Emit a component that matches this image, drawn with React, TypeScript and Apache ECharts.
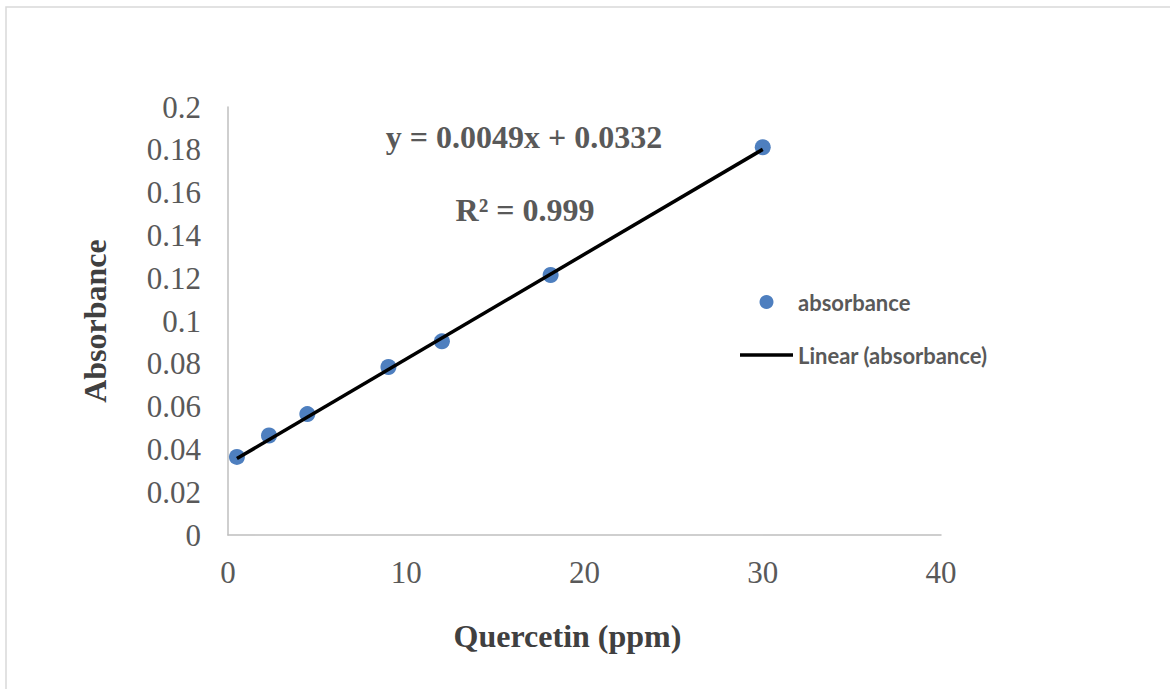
import React, { useEffect, useRef } from "react";
import * as echarts from "echarts";

const concentrations = [0.5, 2.3, 4.45, 9.0, 12.0, 18.1, 30.0];
const absorbances = [0.0365, 0.0465, 0.0565, 0.0785, 0.0905, 0.1215, 0.1812];
const trendX = [0.5, 30];
const trendY = [0.0357, 0.1802];
const equationText = "y = 0.0049x + 0.0332";
const r2Text = "R² = 0.999";

export default function App() {
  const ref = useRef<HTMLDivElement>(null);
  useEffect(() => {
    document.body.style.margin = "0";
    const chart = echarts.init(ref.current!, null, { renderer: "svg" });
    const serif = "'Liberation Serif', 'Times New Roman', serif";
    chart.setOption({
      animation: false,
      backgroundColor: "#ffffff",
      grid: { left: 228, right: 229, top: 107, bottom: 154 },
      xAxis: {
        type: "value",
        min: 0,
        max: 40,
        interval: 10,
        name: "Quercetin (ppm)",
        nameLocation: "middle",
        nameGap: 85,
        nameTextStyle: {
          fontFamily: serif,
          fontSize: 32,
          fontWeight: "bold",
          color: "#404040",
          padding: [0, 34, 0, 0],
        },
        axisLine: { show: true, lineStyle: { color: "#bfbfbf", width: 1.5 } },
        axisTick: { show: false },
        splitLine: { show: false },
        axisLabel: { fontFamily: serif, fontSize: 31, color: "#595959", margin: 22 },
      },
      yAxis: {
        type: "value",
        min: 0,
        max: 0.2,
        interval: 0.02,
        name: "Absorbance",
        nameLocation: "middle",
        nameGap: 117,
        nameTextStyle: { fontFamily: serif, fontSize: 32, fontWeight: "bold", color: "#404040" },
        axisLine: { show: true, lineStyle: { color: "#bfbfbf", width: 1.5 } },
        axisTick: { show: false },
        splitLine: { show: false },
        axisLabel: {
          fontFamily: serif,
          fontSize: 31,
          color: "#595959",
          margin: 27,
          formatter: (v: number) => String(Math.round(v * 100) / 100),
        },
      },
      legend: {
        orient: "vertical",
        left: 740,
        top: 291,
        padding: 0,
        itemWidth: 53,
        itemHeight: 14,
        itemGap: 31,
        symbolKeepAspect: true,
        textStyle: {
          fontFamily: "Lato, 'Open Sans', sans-serif",
          fontSize: 22,
          fontWeight: "bold",
          color: "#595959",
        },
        data: [
          { name: "absorbance", icon: "circle" },
          { name: "Linear (absorbance)", icon: "path://M0,0 L53,0 L53,3.5 L0,3.5 Z" },
        ],
      },
      series: [
        {
          name: "Linear (absorbance)",
          type: "line",
          data: trendX.map((x, i) => [x, trendY[i]]),
          symbol: "none",
          lineStyle: { color: "#000000", width: 3.5 },
          itemStyle: { color: "#000000" },
          z: 3,
        },
        {
          name: "absorbance",
          type: "scatter",
          data: concentrations.map((x, i) => [x, absorbances[i]]),
          symbolSize: 16,
          itemStyle: { color: "#4E7FBF", opacity: 1 },
          z: 2,
        },
      ],
      graphic: [
        {
          type: "rect",
          shape: { x: 6, y: 7, width: 1300, height: 800 },
          style: { fill: "none", stroke: "#d9d9d9", lineWidth: 1.5 },
          silent: true,
        },
        {
          type: "text",
          x: 524,
          y: 137,
          style: {
            text: equationText,
            fontFamily: serif,
            fontSize: 32,
            fontWeight: "bold",
            fill: "#595959",
            textAlign: "center",
            textVerticalAlign: "middle",
          },
        },
        {
          type: "text",
          x: 525,
          y: 210,
          style: {
            text: r2Text,
            fontFamily: serif,
            fontSize: 32,
            fontWeight: "bold",
            fill: "#595959",
            textAlign: "center",
            textVerticalAlign: "middle",
          },
        },
      ],
    });
    return () => chart.dispose();
  }, []);
  return <div ref={ref} style={{ width: 1170, height: 689 }} />;
}
